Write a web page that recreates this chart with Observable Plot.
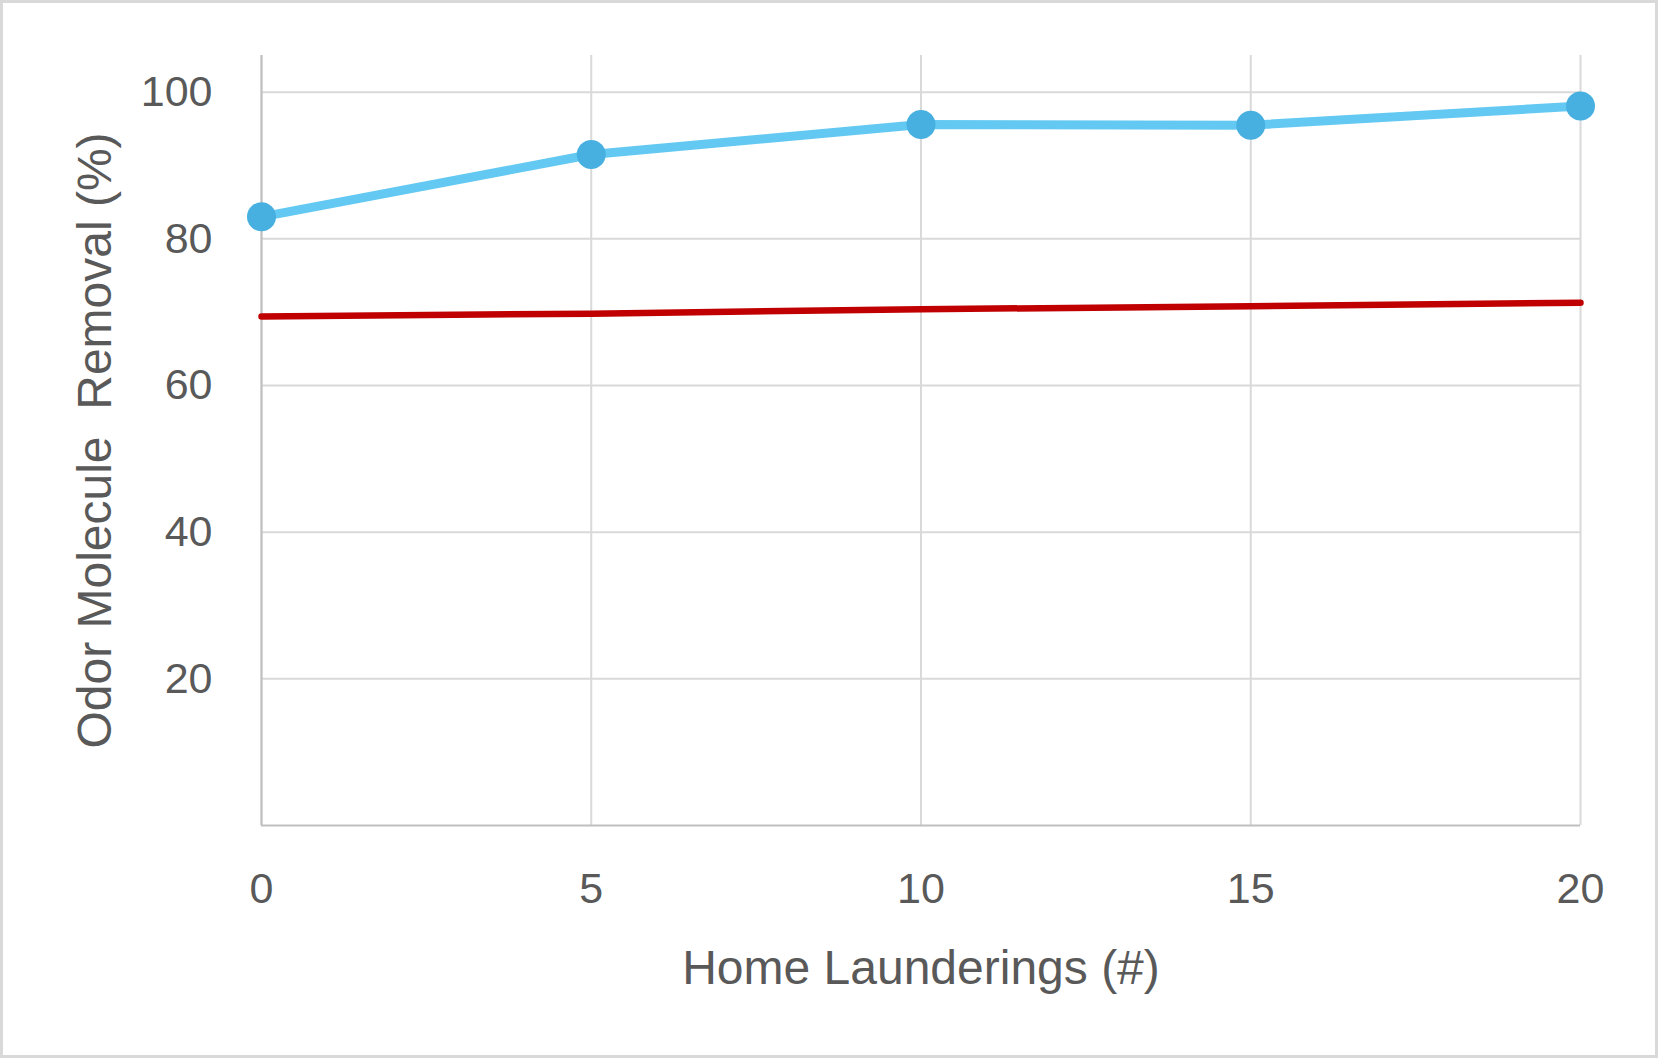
<!DOCTYPE html>
<html>
<head>
<meta charset="utf-8">
<script src="https://cdn.jsdelivr.net/npm/d3@7"></script>
<script src="https://cdn.jsdelivr.net/npm/@observablehq/plot@0.6"></script>
<style>
  html, body { margin: 0; padding: 0; background: #fff; }
  #chart svg { display: block; outline: 3px solid #d9d9d9; outline-offset: -3px; }
</style>
</head>
<body>
<div id="chart"></div>
<script>
const launderings = [0, 5, 10, 15, 20];
const removalTreated = [83.0, 91.5, 95.6, 95.5, 98.1];
const removalBaseline = [69.4, 69.8, 70.4, 70.8, 71.3];
const xTicks = [0, 5, 10, 15, 20];
const yTicks = [20, 40, 60, 80, 100];
const xTitle = "Home Launderings (#)";
const yTitle = "Odor Molecule  Removal (%)";

const treated = launderings.map((x, i) => ({x, y: removalTreated[i]}));
const baseline = launderings.map((x, i) => ({x, y: removalBaseline[i]}));

const textColor = "#595959";
const font = "'Liberation Sans', Arial, sans-serif";

const chart = Plot.plot({
  width: 1658,
  height: 1058,
  marginLeft: 261,
  marginRight: 78,
  marginTop: 55,
  marginBottom: 233,
  style: {fontFamily: font, background: "#fff", color: textColor},
  x: {domain: [0, 20]},
  y: {domain: [0, 105]},
  marks: [
    Plot.gridY(yTicks, {stroke: "#d9d9d9", strokeOpacity: 1, strokeWidth: 2}),
    Plot.gridX(xTicks, {stroke: "#d9d9d9", strokeOpacity: 1, strokeWidth: 2}),
    Plot.ruleX([0], {stroke: "#bfbfbf", strokeWidth: 2}),
    Plot.ruleY([0], {stroke: "#bfbfbf", strokeWidth: 2}),
    Plot.axisY({ticks: yTicks, tickSize: 0, tickPadding: 49, fontSize: 43, fill: textColor, label: null}),
    Plot.axisX({ticks: xTicks, tickSize: 0, tickPadding: 47, fontSize: 43, fill: textColor, label: null}),
    Plot.line(baseline, {x: "x", y: "y", stroke: "#c00000", strokeWidth: 6.5}),
    Plot.line(treated, {x: "x", y: "y", stroke: "#63c9f2", strokeWidth: 9, strokeLinejoin: "round"}),
    Plot.dot(treated, {x: "x", y: "y", r: 14.5, fill: "#47b0e0", stroke: null}),
    Plot.text([xTitle], {frameAnchor: "bottom", lineAnchor: "middle", textAnchor: "middle", dy: 143, text: d => d, fontSize: 48, fill: textColor}),
    Plot.text([yTitle], {frameAnchor: "left", lineAnchor: "middle", textAnchor: "middle", dx: -166, rotate: -90, text: d => d, fontSize: 48, fill: textColor})
  ]
});
document.getElementById("chart").appendChild(chart);
</script>
</body>
</html>
